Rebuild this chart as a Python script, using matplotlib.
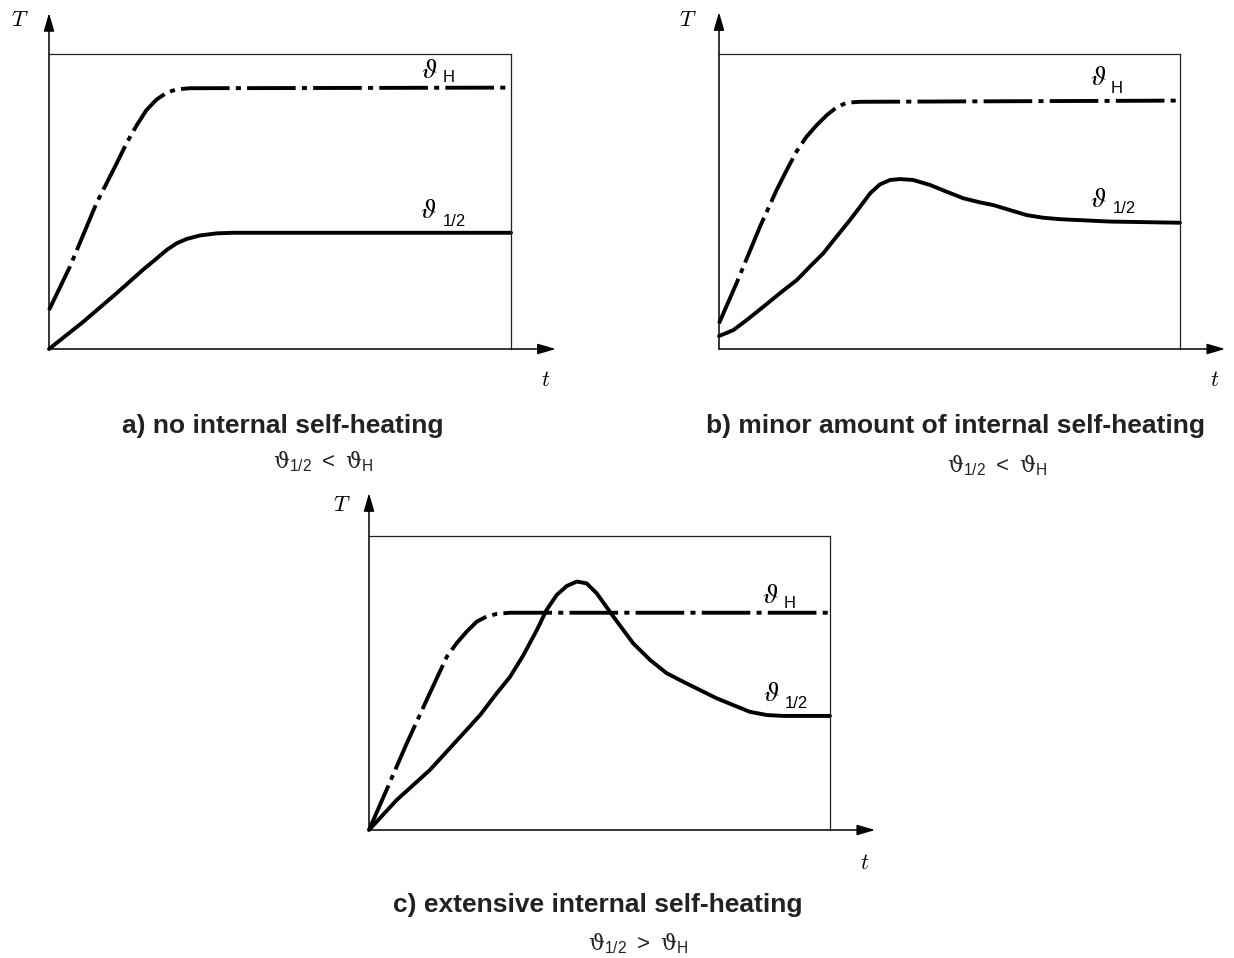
import numpy as np
import matplotlib.pyplot as plt

plt.rcParams['mathtext.fontset'] = 'custom'
plt.rcParams['mathtext.rm'] = 'DejaVu Serif'
plt.rcParams['mathtext.sf'] = 'Liberation Sans'

W, H = 1234, 958   # figure size in pixels

# a) no internal self-heating
ta_H = [0, 0.45, 1.03, 1.47, 1.68, 1.90, 2.11, 2.33, 2.55, 2.76, 3.05, 10]
Ta_H = [1.32, 2.78, 4.95, 6.31, 6.98, 7.59, 8.10, 8.46, 8.69, 8.80, 8.84, 8.86]
ta_h = [0, 0.74, 1.47, 2.03, 2.33, 2.55, 2.76, 2.98, 3.27, 3.63, 3.98, 10]
Ta_h = [0, 0.92, 1.90, 2.68, 3.07, 3.36, 3.58, 3.73, 3.85, 3.92, 3.94, 3.94]

# b) minor amount of internal self-heating
tb_H = [0, 0.38, 0.89, 1.25, 1.47, 1.68, 1.90, 2.12, 2.34, 2.55, 2.77, 3.06, 10]
Tb_H = [0.87, 2.23, 4.15, 5.39, 6.07, 6.69, 7.20, 7.59, 7.93, 8.19, 8.35, 8.38, 8.42]
tb_h = [0, 0.31, 0.60, 0.96, 1.32, 1.69, 1.97, 2.26, 2.55, 2.84, 3.06, 3.28, 3.49, 3.71,
        3.93, 4.21, 4.58, 4.94, 5.30, 5.66, 5.95, 6.31, 6.67, 7.03, 7.40, 8.48, 10]
Tb_h = [0.44, 0.64, 0.98, 1.43, 1.89, 2.34, 2.79, 3.24, 3.81, 4.37, 4.82, 5.28, 5.58, 5.73,
        5.76, 5.73, 5.56, 5.33, 5.11, 4.97, 4.88, 4.71, 4.54, 4.45, 4.40, 4.32, 4.28]

# c) extensive internal self-heating
tc_H = [0, 0.38, 0.82, 1.25, 1.47, 1.69, 1.90, 2.12, 2.34, 2.55, 2.77, 3.06, 10]
Tc_H = [0, 1.36, 2.95, 4.42, 5.16, 5.90, 6.35, 6.75, 7.09, 7.26, 7.35, 7.39, 7.39]
tc_h = [0, 0.60, 1.32, 2.05, 2.41, 2.77, 3.06, 3.35, 3.64, 3.85, 4.07, 4.29, 4.51, 4.72,
        4.94, 5.30, 5.73, 6.10, 6.46, 6.82, 7.18, 7.54, 7.90, 8.26, 8.63, 8.99, 10]
Tc_h = [0, 1.02, 2.04, 3.29, 3.91, 4.65, 5.21, 5.95, 6.80, 7.48, 7.99, 8.30, 8.45, 8.39,
        8.05, 7.26, 6.35, 5.78, 5.33, 5.04, 4.76, 4.48, 4.25, 4.02, 3.91, 3.88, 3.88]

titles = ['a) no internal self-heating',
          'b) minor amount of internal self-heating',
          'c) extensive internal self-heating']
relations = [r'$\mathrm{\vartheta}_{\mathsf{1/2}}\;\mathsf{<}\;\mathrm{\vartheta}_{\mathsf{H}}$',
             r'$\mathrm{\vartheta}_{\mathsf{1/2}}\;\mathsf{<}\;\mathrm{\vartheta}_{\mathsf{H}}$',
             r'$\mathrm{\vartheta}_{\mathsf{1/2}}\;\mathsf{>}\;\mathrm{\vartheta}_{\mathsf{H}}$']

fig = plt.figure(figsize=(W / 100, H / 100), dpi=100)


def px(x, y):
    # pixel position -> figure fraction
    return x / W, 1 - y / H


def panel(box, curves, xtip, ytip):
    x0, y0, x1, y1 = box
    ax = fig.add_axes([x0 / W, 1 - y1 / H, (x1 - x0) / W, (y1 - y0) / H])
    ax.set_xlim(0, 10)
    ax.set_ylim(0, 10)
    ax.set_xticks([])
    ax.set_yticks([])
    for s in ['left', 'bottom']:
        ax.spines[s].set_visible(False)
    for s in ['top', 'right']:
        ax.spines[s].set_linewidth(0.9)
        ax.spines[s].set_color('#222222')
    tH, TH, th, Th = curves
    ax.plot(tH, TH, color='black', lw=2.8, dashes=(12.5, 1.6, 1.3, 1.6),
            solid_joinstyle='round', dash_joinstyle='round', clip_on=False)
    ax.plot(th, Th, color='black', lw=2.8, solid_capstyle='round',
            solid_joinstyle='round', clip_on=False)
    kw = dict(arrowstyle='-|>,head_length=0.55,head_width=0.16', mutation_scale=20,
              lw=1.1, color='black', shrinkA=0, shrinkB=0)
    ax.annotate('', xy=(xtip, 0), xytext=(0, 0), xycoords='axes fraction',
                arrowprops=kw, annotation_clip=False)
    ax.annotate('', xy=(0, ytip), xytext=(0, 0), xycoords='axes fraction',
                arrowprops=kw, annotation_clip=False)
    return ax


panel((49, 54, 511, 349), (ta_H, Ta_H, ta_h, Ta_h), 1.097, 1.139)
panel((719, 54, 1180, 349), (tb_H, Tb_H, tb_h, Tb_h), 1.098, 1.142)
panel((369, 536, 830, 830), (tc_H, Tc_H, tc_h, Tc_h), 1.098, 1.146)

# axis letters
for (x, y) in [(20, 20), (688, 20), (342, 505)]:
    fig.text(*px(x, y), '$T$', math_fontfamily='cm', fontsize=16, ha='center', va='center')
for (x, y) in [(546, 380), (1215, 380), (865, 863)]:
    fig.text(*px(x, y), '$t$', math_fontfamily='cm', fontsize=16, ha='center', va='center')

# curve labels
lab_H = [(429, 70, 449, 82), (1098, 77, 1117, 93), (770, 595, 790, 608)]
lab_h = [(428, 210, 454, 226), (1098, 199, 1124, 213), (771, 693, 796, 708)]
for (x, y, xs, ys) in lab_H:
    fig.text(*px(x, y), r'$\vartheta$', math_fontfamily='stix', fontsize=20, ha='center', va='center')
    fig.text(*px(xs, ys), 'H', family='Liberation Sans', fontsize=12, ha='center', va='baseline')
for (x, y, xs, ys) in lab_h:
    fig.text(*px(x, y), r'$\vartheta$', math_fontfamily='stix', fontsize=20, ha='center', va='center')
    fig.text(*px(xs, ys), '1/2', family='Liberation Sans', fontsize=12, ha='center', va='baseline')

# captions
for (x, y), s in zip([(283, 433), (955, 433), (598, 912)], titles):
    fig.text(*px(x, y), s, family='Liberation Sans', weight='bold', fontsize=19,
             color='#222222', ha='center', va='baseline')
for (x, y), s in zip([(323, 468), (997, 472), (638, 950)], relations):
    fig.text(*px(x, y), s, math_fontfamily='custom', fontsize=16, color='#222222',
             ha='center', va='baseline')

fig.savefig('out.png', dpi=100)
